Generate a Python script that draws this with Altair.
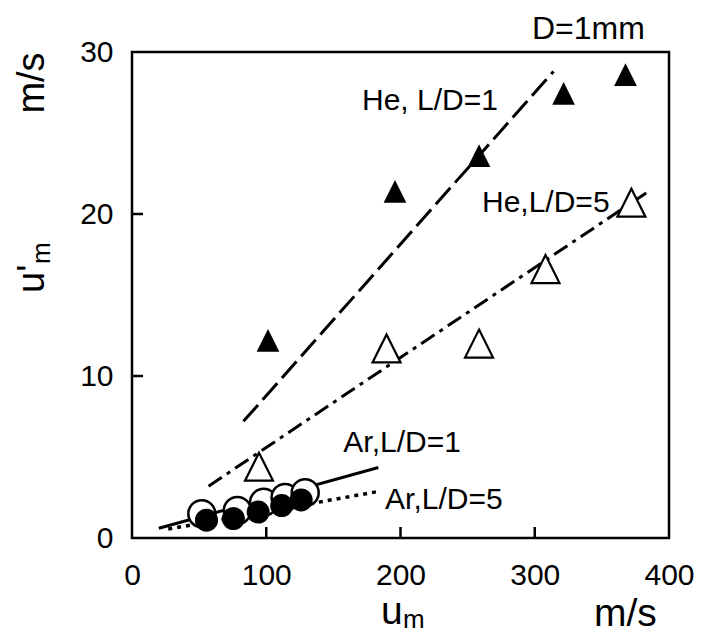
import altair as alt
import pandas as pd

# ---- data ----
# He, L/D=1 (filled triangles)
he1_x = [101.3, 195.9, 258.5, 321.5, 367.6]
he1_y = [12.2, 21.4, 23.6, 27.45, 28.6]
# He, L/D=5 (open triangles)
he5_x = [94.6, 189.6, 258.5, 308.0, 372.0]
he5_y = [4.4, 11.7, 12.0, 16.6, 20.7]
# Ar, L/D=1 (open circles)
ar1_x = [52.0, 78.5, 98.0, 114.0, 129.0]
ar1_y = [1.5, 1.7, 2.2, 2.5, 2.8]
# Ar, L/D=5 (filled circles)
ar5_x = [55.5, 75.5, 94.0, 111.5, 126.0]
ar5_y = [1.1, 1.2, 1.6, 2.0, 2.35]

# fitted lines (end points)
he1_line_x = [83.0, 314.0]
he1_line_y = [7.2, 28.8]
he5_line_x = [57.0, 383.0]
he5_line_y = [3.2, 21.3]
ar1_line_x = [20.0, 183.5]
ar1_line_y = [0.6, 4.35]
ar5_line_x = [27.0, 182.0]
ar5_line_y = [0.55, 2.85]

# annotations
label_text = ["He, L/D=1", "He,L/D=5", "Ar,L/D=1", "Ar,L/D=5"]
label_x = [171.3, 260.7, 157.4, 188.5]
label_y = [27.0, 20.7, 5.85, 2.35]

x_tick_values = [0, 100, 200, 300, 400]
y_tick_values = [0, 10, 20, 30]
x_inner_ticks = [100, 200, 300]
y_inner_ticks = [10, 20]

FONT = "Liberation Sans"
W, H = 537, 486

x_enc = alt.X(
    "x:Q",
    scale=alt.Scale(domain=[0, 400], nice=False, zero=False),
    axis=alt.Axis(values=x_tick_values, title=None, grid=False, domain=False,
                  ticks=False, tickSize=0, labelFontSize=30, labelFont=FONT,
                  labelColor="black", labelPadding=22, labelFlush=False,
                  labelOverlap=False),
)
y_enc = alt.Y(
    "y:Q",
    scale=alt.Scale(domain=[0, 30], nice=False, zero=False),
    axis=alt.Axis(values=y_tick_values, title=None, grid=False, domain=False,
                  ticks=False, tickSize=0, labelFontSize=30, labelFont=FONT,
                  labelColor="black", labelPadding=19, labelOverlap=False),
)


def df(xs, ys):
    return pd.DataFrame({"x": xs, "y": ys})


def line(xs, ys, dash=None, width=3):
    kw = dict(color="black", strokeWidth=width)
    if dash:
        kw["strokeDash"] = dash
    return alt.Chart(df(xs, ys)).mark_line(**kw).encode(x=x_enc, y=y_enc)


tri_path = "M0,-1L1,1L-1,1Z"

layers = [
    line(he1_line_x, he1_line_y, [22, 7]),
    line(he5_line_x, he5_line_y, [16, 6, 4, 6]),
    line(ar1_line_x, ar1_line_y),
    line(ar5_line_x, ar5_line_y, [4, 5], 3.5),
    alt.Chart(df(ar1_x, ar1_y)).mark_point(
        shape="circle", filled=True, fill="white", stroke="black",
        strokeWidth=2.5, size=729, opacity=1, fillOpacity=1
    ).encode(x=x_enc, y=y_enc),
    alt.Chart(df(ar5_x, ar5_y)).mark_point(
        shape="circle", filled=True, color="black", size=530, opacity=1
    ).encode(x=x_enc, y=y_enc),
    alt.Chart(df(he1_x, he1_y)).mark_point(
        shape=tri_path, filled=True, color="black", size=515, opacity=1
    ).encode(x=x_enc, y=y_enc),
    alt.Chart(df(he5_x, he5_y)).mark_point(
        shape=tri_path, filled=True, fill="white", stroke="black",
        strokeWidth=2.2, size=784, opacity=1, fillOpacity=1
    ).encode(x=x_enc, y=y_enc),
    # inward ticks
    alt.Chart(pd.DataFrame({"x": x_inner_ticks})).mark_rule(
        color="black", strokeWidth=2.5
    ).encode(x=x_enc, y=alt.value(H), y2=alt.value(H - 11)),
    alt.Chart(pd.DataFrame({"y": y_inner_ticks})).mark_rule(
        color="black", strokeWidth=2.5
    ).encode(y=y_enc, x=alt.value(0), x2=alt.value(11)),
    # series labels
    alt.Chart(pd.DataFrame({"x": label_x, "y": label_y, "label": label_text})).mark_text(
        align="left", baseline="middle", fontSize=30, font=FONT, color="black"
    ).encode(x=x_enc, y=y_enc, text="label:N"),
]


def ptext(txt, px, py, size, angle=0, align="left", baseline="alphabetic"):
    kw = dict(align=align, baseline=baseline, fontSize=size, font=FONT, color="black")
    if angle:
        kw["angle"] = angle
    return alt.Chart(alt.Data(values=[{}])).mark_text(**kw).encode(
        x=alt.value(px), y=alt.value(py), text=alt.value(txt)
    )


layers += [
    ptext("D=1mm", 400, -13, 32),
    ptext("m/s", -88, 31, 38, angle=270, align="center"),
    ptext("u'", -88, 241, 38, angle=270),
    ptext("m", -82, 212, 26, angle=270),
    ptext("u", 249, 572, 39),
    ptext("m", 271, 576, 26),
    ptext("m/s", 462, 574, 39),
]

chart = alt.layer(*layers).properties(
    width=W, height=H,
    padding={"left": 124, "top": 44, "right": 30, "bottom": 97},
    autosize=alt.AutoSizeParams(type="none"),
    background="white",
).configure_view(stroke="black", strokeWidth=2.5)

chart.save("out.html", embed_options={"renderer": "svg", "actions": False})
